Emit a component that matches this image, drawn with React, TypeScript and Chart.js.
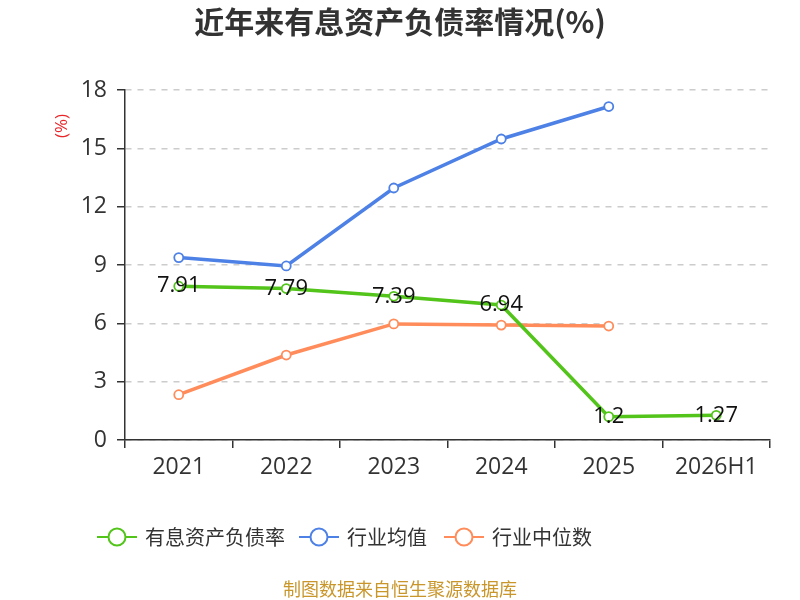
import { Chart, registerables } from "chart.js";
import { useEffect, useRef } from "react";

Chart.register(...registerables);

const categories = ["2021", "2022", "2023", "2024", "2025", "2026H1"];
const debtRatio = [7.91, 7.79, 7.39, 6.94, 1.2, 1.27];
const industryMean = [9.38, 8.95, 12.96, 15.48, 17.15, null];
const industryMedian = [2.33, 4.37, 5.97, 5.91, 5.86, null];
const yTicks = [0, 3, 6, 9, 12, 15, 18];

const seriesNames = ["有息资产负债率", "行业均值", "行业中位数"];
const seriesColors = ["#52c41a", "#4e81e6", "#ff8c5a"];

const FONT = '"Open Sans", "Noto Sans CJK SC", sans-serif';
const CJK = '"Noto Sans CJK SC", sans-serif';

export default function App() {
    const canvasRef = useRef<HTMLCanvasElement | null>(null);
    const chartRef = useRef<Chart | null>(null);

    useEffect(() => {
        if (!canvasRef.current) return;

        // value labels on the first series
        const valueLabels = {
            id: "valueLabels",
            afterDatasetsDraw(chart: any) {
                const { ctx } = chart;
                const meta = chart.getDatasetMeta(0);
                ctx.save();
                ctx.font = `22px ${FONT}`;
                ctx.fillStyle = "#111";
                ctx.textAlign = "center";
                ctx.textBaseline = "middle";
                meta.data.forEach((pt: any, i: number) => {
                    ctx.fillText(String(debtRatio[i]), pt.x, pt.y);
                });
                ctx.restore();
            },
        };

        // title, unit, legend and source
        const decorations = {
            id: "decorations",
            afterDraw(chart: any) {
                const { ctx } = chart;
                ctx.save();
                ctx.textAlign = "center";
                ctx.textBaseline = "middle";
                ctx.fillStyle = "#333";
                ctx.font = `bold 30px ${CJK}`;
                ctx.fillText("近年来有息资产负债率情况(%)", 400, 22);

                ctx.save();
                ctx.translate(62, 126);
                ctx.rotate(-Math.PI / 2);
                ctx.fillStyle = "#e8262a";
                ctx.font = `17px ${FONT}`;
                ctx.fillText("(%)", 0, 0);
                ctx.restore();

                const legendX = [97, 299, 444];
                ctx.font = `20px ${CJK}`;
                ctx.textAlign = "left";
                seriesNames.forEach((name, i) => {
                    const x = legendX[i];
                    const y = 537;
                    ctx.strokeStyle = seriesColors[i];
                    ctx.lineWidth = 2;
                    ctx.beginPath();
                    ctx.moveTo(x, y);
                    ctx.lineTo(x + 40, y);
                    ctx.stroke();
                    ctx.beginPath();
                    ctx.arc(x + 20, y, 8.5, 0, Math.PI * 2);
                    ctx.fillStyle = "#fff";
                    ctx.fill();
                    ctx.stroke();
                    ctx.fillStyle = "#333";
                    ctx.fillText(name, x + 48, y);
                });

                ctx.textAlign = "center";
                ctx.fillStyle = "#c9962b";
                ctx.font = `18px ${CJK}`;
                ctx.fillText("制图数据来自恒生聚源数据库", 400, 589);
                ctx.restore();
            },
        };

        const makeSet = (label: string, data: (number | null)[], color: string, order: number) => ({
            label,
            data,
            borderColor: color,
            backgroundColor: "#fff",
            borderWidth: 3.5,
            pointRadius: 4.5,
            pointBorderWidth: 1.8,
            pointBackgroundColor: "#fff",
            pointBorderColor: color,
            order,
        });

        chartRef.current = new Chart(canvasRef.current, {
            type: "line",
            data: {
                labels: categories,
                datasets: [
                    makeSet(seriesNames[0], debtRatio, seriesColors[0], 0),
                    makeSet(seriesNames[1], industryMean, seriesColors[1], 1),
                    makeSet(seriesNames[2], industryMedian, seriesColors[2], 2),
                ],
            },
            options: {
                responsive: false,
                animation: false,
                layout: { padding: { top: 90, right: 30, left: 0, bottom: 0 } },
                plugins: {
                    legend: { display: false },
                    tooltip: { enabled: false },
                    title: { display: false },
                },
                scales: {
                    x: {
                        offset: true,
                        grid: {
                            offset: true,
                            drawOnChartArea: false,
                            tickLength: 8,
                            tickColor: "#333",
                            lineWidth: 1.5,
                        },
                        border: { color: "#333", width: 1.5 },
                        ticks: {
                            font: { size: 23, family: FONT },
                            color: "#333",
                            padding: 6,
                            maxRotation: 0,
                        },
                        afterFit(scale: any) {
                            scale.height = 160;
                        },
                    },
                    y: {
                        min: 0,
                        max: 18,
                        afterBuildTicks(scale: any) {
                            scale.ticks = yTicks.map((v) => ({ value: v }));
                        },
                        grid: {
                            color: "#cccccc",
                            lineWidth: 1.5,
                            tickLength: 8,
                            tickColor: "#333",
                            tickBorderDash: [],
                        },
                        border: { color: "#333", width: 1.5, dash: [6, 6] },
                        ticks: {
                            font: { size: 23, family: FONT },
                            color: "#333",
                            padding: 10,
                        },
                        afterFit(scale: any) {
                            scale.width = 125;
                        },
                    },
                },
            },
            plugins: [valueLabels, decorations],
        } as any);

        return () => {
            if (chartRef.current) {
                chartRef.current.destroy();
                chartRef.current = null;
            }
        };
    }, []);

    return (
        <div style={{ position: "absolute", left: 0, top: 0, width: 800, height: 600, background: "#fff" }}>
            <canvas ref={canvasRef} width={800} height={600} style={{ width: 800, height: 600 }}></canvas>
        </div>
    );
}
